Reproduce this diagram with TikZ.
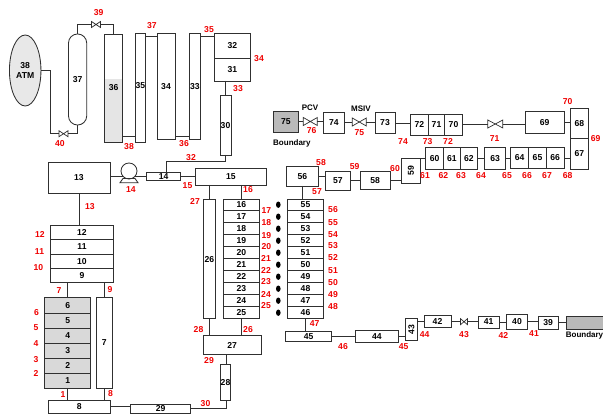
\documentclass[tikz,border=0pt]{standalone}
\usepackage{fontspec}
\usepackage{graphicx}
\setmainfont{Liberation Sans}
\usetikzlibrary{calc,shapes.geometric}
\definecolor{ln}{HTML}{303030}
\definecolor{lbl}{HTML}{F00000}
\tikzset{
  ln/.style={draw=ln,line width=0.85pt},
  bxs/.style={ln,inner sep=0pt,outer sep=0pt,font=\fontsize{8.6}{9}\selectfont\bfseries,text=black},
  rls/.style={inner sep=0pt,font=\fontsize{8.6}{9}\selectfont\bfseries,text=lbl},
  bls/.style={inner sep=0pt,font=\fontsize{8}{9}\selectfont\bfseries,text=black},
  vls/.style={inner sep=0pt,outer sep=0pt},
  con/.style={ln}
}
\newcount\rlc
% \bx[opts]{name}{x1}{y1}{x2}{y2}{label}
\newcommand{\bx}[7][]{%
  \pgfmathsetmacro\bxw{#5-#3}\pgfmathsetmacro\bxh{#6-#4}%
  \pgfmathsetmacro\bxa{(#3+#5)/2}\pgfmathsetmacro\bxb{(#4+#6)/2}%
  \node[bxs,minimum width=\bxw pt,minimum height=\bxh pt,#1] (#2) at (\bxa,\bxb) {#7};}
\newcommand{\rl}[3]{\global\advance\rlc by 1 \node[rls] (rl\the\rlc) at (#1,#2) {#3};}
% \valve{name}{x}{y}{halfw}{halfh}
\newcommand{\valve}[5]{%
  \node[vls,minimum width=#4*2pt,minimum height=#5*2pt] (#1) at (#2,#3) {};
  \draw[ln,fill=white,line width=0.7pt] (#1.north west)--(#1.south east)--(#1.north east)--(#1.south west)--cycle;}
\begin{document}
\begin{tikzpicture}[x=1pt,y=-1pt]
\useasboundingbox[fill=white] (0,0) rectangle (603,414);
% upper train
\node[bxs,ellipse,minimum width=31.5pt,minimum height=71pt,fill=black!9,align=center] (n38) at (25.2,70.5) {38\\[0.5pt]ATM};
\bx[rounded corners=9pt]{n37}{68.5}{34}{86.7}{125}{37}
\fill[black!10] (104.7,79) rectangle (122.7,142);
\bx{n36}{104.7}{34}{122.7}{142}{36}
\bx{n35}{135}{33.5}{145.7}{142}{\raisebox{4pt}{35}}
\bx{n34}{157}{33.5}{175}{139}{34}
\bx{n33}{189.7}{33.5}{200}{139}{33}
\bx{n32}{214}{33.5}{250.7}{58}{32}
\bx{n31}{214}{58}{250.7}{81}{31}
\bx{n30}{220}{95.7}{231}{155}{30}
\bx{n13}{48}{162}{110}{193.7}{13}
\node[ln,circle,minimum size=16pt,inner sep=0pt,outer sep=0pt] (pump) at (129,171) {};
\draw[ln] (123,178.5) -- (135,178.5) -- (138,182.7) -- (120,182.7) -- cycle;
\bx{n14}{146.7}{172}{180.7}{180.7}{14}
\bx{n15}{195}{168.7}{266.7}{185}{15}
% stack 16-25
\bx{n16}{223.3}{199.3}{259.5}{210.7}{16}
\bx{n17}{223.3}{210.7}{259.5}{222.3}{17}
\bx{n18}{223.3}{222.3}{259.5}{234.3}{18}
\bx{n19}{223.3}{234.3}{259.5}{246.3}{19}
\bx{n20}{223.3}{246.3}{259.5}{258.3}{20}
\bx{n21}{223.3}{258.3}{259.5}{270.3}{21}
\bx{n22}{223.3}{270.3}{259.5}{282.3}{22}
\bx{n23}{223.3}{282.3}{259.5}{294.3}{23}
\bx{n24}{223.3}{294.3}{259.5}{306.3}{24}
\bx{n25}{223.3}{306.3}{259.5}{318.7}{25}
\bx{n26}{203}{199.5}{215.7}{318.7}{26}
\bx{n27}{203.3}{335.7}{261}{354.3}{27}
\bx{n28}{220.7}{364.3}{230.3}{400.3}{28}
% stack 55-46
\bx{n55}{287.7}{199.3}{323.3}{210.7}{55}
\bx{n54}{287.7}{210.7}{323.3}{222.3}{54}
\bx{n53}{287.7}{222.3}{323.3}{234.3}{53}
\bx{n52}{287.7}{234.3}{323.3}{246.3}{52}
\bx{n51}{287.7}{246.3}{323.3}{258.3}{51}
\bx{n50}{287.7}{258.3}{323.3}{270.3}{50}
\bx{n49}{287.7}{270.3}{323.3}{282.3}{49}
\bx{n48}{287.7}{282.3}{323.3}{294.3}{48}
\bx{n47}{287.7}{294.3}{323.3}{306.3}{47}
\bx{n46}{287.7}{306.3}{323.3}{318.7}{46}
% left column
\bx{n12}{50.7}{225.7}{113.3}{239.7}{12}
\bx{n11}{50.7}{239.7}{113.3}{254.3}{11}
\bx{n10}{50.7}{254.3}{113.3}{268.3}{10}
\bx{n9}{50.7}{268.3}{113.3}{282.3}{9}
\bx[fill=black!15]{n6}{44.7}{297.7}{90.7}{313}{6}
\bx[fill=black!15]{n5}{44.7}{313}{90.7}{328.3}{5}
\bx[fill=black!15]{n4}{44.7}{328.3}{90.7}{343.3}{4}
\bx[fill=black!15]{n3}{44.7}{343.3}{90.7}{358.3}{3}
\bx[fill=black!15]{n2}{44.7}{358.3}{90.7}{373.3}{2}
\bx[fill=black!15]{n1}{44.7}{373.3}{90.7}{388.3}{1}
\bx{n7}{96.7}{297.7}{112}{388.3}{7}
\bx{n8}{48.3}{400.3}{110}{413.3}{8}
\bx{n29}{130.7}{404.3}{190.7}{413}{29}
% lower train
\bx{n45}{285.7}{331.3}{331.7}{341}{45}
\bx{n44}{355.3}{330.3}{398.3}{342.3}{44}
\bx{n43}{405.3}{318.7}{417.7}{340.3}{\rotatebox{90}{43}}
\bx{n42}{424}{315.7}{451}{327.7}{42}
\valve{v43}{464}{321.7}{3.5}{3}
\bx{n41}{478}{316}{499.3}{328}{41}
\bx{n40}{506.3}{314.3}{527.7}{329}{40}
\bx{n39}{538}{316.7}{558.3}{329}{39}
\bx[fill=black!27]{bd2}{566}{316.7}{603}{329.3}{}
\node[bls] (bd2t) at (584.5,335.5) {Boundary};
% steam train
\bx[fill=black!27]{n75}{273.3}{111.3}{298.3}{132.3}{75}
\valve{vpcv}{310.3}{121.5}{7}{4}
\bx{n74}{323.3}{112.3}{344.3}{133.3}{74}
\valve{vmsiv}{359.3}{122}{7}{4}
\bx{n73}{375}{112.7}{395}{133.3}{73}
\bx{n72}{410.3}{114}{428.3}{135}{72}
\bx{n71}{428.3}{114}{444.7}{135}{71}
\bx{n70}{444.7}{114}{462.3}{135}{70}
\valve{v71}{495.3}{124}{7.5}{4}
\bx{n69}{525.3}{111.7}{564}{133.3}{69}
\bx{n68}{570.7}{108.7}{588}{138.7}{68}
\bx{n67}{570.7}{138.7}{588}{169}{67}
\bx{n60}{425.7}{147.7}{443.7}{169}{60}
\bx{n61}{443.7}{147.7}{460}{169}{61}
\bx{n62}{460}{147.7}{477.7}{169}{62}
\bx{n63}{484.7}{147.7}{505.7}{169.3}{63}
\bx{n64}{510.7}{147.3}{528.7}{168.7}{64}
\bx{n65}{528.7}{147.3}{546.3}{168.7}{65}
\bx{n66}{546.3}{147.3}{564}{168.7}{66}
\bx{n59}{401.3}{158}{420.3}{183.3}{\rotatebox{90}{59}}
\bx{n58}{360.3}{171.3}{390}{189.3}{58}
\bx{n57}{325.3}{171.3}{350.3}{190.7}{57}
\bx{n56}{286.3}{166.7}{318.3}{186}{56}
\valve{v39}{96}{24.5}{4.5}{3}
\valve{v40}{63.5}{133.7}{4.5}{3}
% texts
\node[bls] (tpcv) at (310,107.5) {PCV};
\node[bls] (tmsiv) at (361,108.7) {MSIV};
\node[bls,anchor=west] (bd1t) at (273,143.7) {Boundary};
% bend coordinates
\coordinate (b40) at (50.7,133.7);
\coordinate (b30) at (225.5,161.3);
\coordinate (b14) at (166.3,161.3);
% connectors
\draw[con] (n38.east) -| (b40) -- (v40.west);
\draw[con] (v40.east) -| (n37.south);
\draw[con] (n37.north) |- (v39.west);
\draw[con] (v39.east) -| (n36.north);
\draw[con] (n36.south east |- 0,136.3) -- (n35.south west |- 0,136.3);
\draw[con] (n35.north east |- 0,36.3) -- (n34.north west |- 0,36.3);
\draw[con] (n34.south east |- 0,136.3) -- (n33.south west |- 0,136.3);
\draw[con] (n33.north east |- 0,36.3) -- (n32.north west |- 0,36.3);
\draw[con] (n31.south -| n30.north) -- (n30.north);
\draw[con] (n30.south) -- (b30) -- (b14) -- (b14 |- n14.north);
\draw[con] (n13.east |- n14.west) -- (pump.225 |- n14.west);
\draw[con] (pump.-45 |- n14.west) -- (n14.west);
\draw[con] (n14.east) -- (n14.east -| n15.west);
\draw[con] (n15.south -| n26.north) -- (n26.north);
\draw[con] (n15.south -| n16.north) -- (n16.north);
\draw[con] (n13.south) -- (n12.north -| n13.south);
\draw[con] (n9.south -| n6.north) -- (n6.north);
\draw[con] (n9.south -| n7.north) -- (n7.north);
\draw[con] (n1.south) -- (n1.south |- n8.north);
\draw[con] (n7.south) -- (n7.south |- n8.north);
\draw[con] (n8.east) -- (n8.east -| n29.west);
\coordinate (p28s) at ([xshift=1.2pt]n28.south);
\coordinate (p28n) at ([xshift=1.2pt]n28.north);
\draw[con] (n29.east) -| (p28s);
\draw[con] (n27.south -| p28n) -- (p28n);
\draw[con] (n26.south) -- (n26.south |- n27.north);
\draw[con] (n25.south) -- (n25.south |- n27.north);
\draw[con] (n46.south) -- (n46.south |- n45.north);
\draw[con] (n45.east) -- (n45.east -| n44.west);
\draw[con] (n44.east) -- (n44.east -| n43.west);
\draw[con] (n43.east |- n42.west) -- (n42.west);
\draw[con] (n42.east) -- (v43.west);
\draw[con] (v43.east) -- (v43.east -| n41.west);
\draw[con] (n41.east) -- (n41.east -| n40.west);
\draw[con] (n40.east) -- (n40.east -| n39.west);
\draw[con] (n39.east) -- (n39.east -| bd2.west);
\draw[con] (n75.east) -- (n75.east -| vpcv.west);
\draw[con] (vpcv.east) -- (vpcv.east -| n74.west);
\draw[con] (n74.east) -- (n74.east -| vmsiv.west);
\draw[con] (vmsiv.east) -- (vmsiv.east -| n73.west);
\draw[con] (n73.east) -- (n73.east -| n72.west);
\draw[con] (n70.east) -- (n70.east -| v71.west);
\draw[con] (v71.east) -- (v71.east -| n69.west);
\draw[con] (n69.east) -- (n69.east -| n68.west);
\draw[con] (n66.east) -- (n66.east -| n67.west);
\draw[con] (n64.west) -- (n64.west -| n63.east);
\draw[con] (n63.west) -- (n63.west -| n62.east);
\draw[con] (n60.west) -- (n60.west -| n59.east);
\draw[con] (n58.east |- 0,180) -- (n59.west |- 0,180);
\draw[con] (n57.east |- 0,180.7) -- (n58.west |- 0,180.7);
\draw[con] (n56.east |- 0,176) -- (n57.west |- 0,176);
\draw[con] (n56.south) -- (n56.south |- n55.north);
% dots
\foreach \i/\yy in {1/204.7,2/216.7,3/228.7,4/240.7,5/252.7,6/264.7,7/276.7,8/288.7,9/300.7,10/312.7}
  \node[ellipse,fill=black,inner sep=0pt,minimum width=4.6pt,minimum height=6.4pt] (dot\i) at (278.3,\yy) {};
% red labels
\rl{98.7}{13}{39}\rl{152}{26}{37}\rl{209}{29.5}{35}\rl{259}{59}{34}\rl{238}{89}{33}
\rl{191}{158}{32}\rl{60}{144}{40}\rl{129}{147}{38}\rl{184}{144}{36}\rl{131}{190}{14}
\rl{187.5}{186}{15}\rl{248}{190}{16}\rl{195}{201}{27}\rl{90}{207}{13}
\rl{40}{234}{12}\rl{39.5}{252}{11}\rl{38.5}{268}{10}\rl{59}{291}{7}\rl{110}{290}{9}
\rl{36.5}{313}{6}\rl{36}{328}{5}\rl{36}{344}{4}\rl{36}{360}{3}\rl{36}{373.5}{2}
\rl{63}{395}{1}\rl{110.5}{394}{8}\rl{205.5}{404}{30}\rl{209}{361}{29}\rl{198.5}{330}{28}\rl{248}{330}{26}
\rl{266.3}{211}{17}\rl{266.3}{223}{18}\rl{266.3}{235.5}{19}\rl{266.3}{247}{20}\rl{266}{258}{21}
\rl{266}{270}{22}\rl{266}{282}{23}\rl{266}{294}{24}\rl{266}{306}{25}
\rl{333}{210}{56}\rl{333}{222.5}{55}\rl{333}{234.5}{54}\rl{333}{246}{53}\rl{333}{258}{52}
\rl{333}{270.5}{51}\rl{333}{282.5}{50}\rl{333}{294.5}{49}\rl{333}{306.5}{48}
\rl{314.7}{324}{47}\rl{343}{347}{46}
\rl{321}{163}{58}\rl{317}{191.5}{57}\rl{354.7}{167}{59}\rl{395}{168.7}{60}
\rl{425}{175.5}{61}\rl{443.3}{175.5}{62}\rl{461}{175.5}{63}\rl{481}{175.5}{64}\rl{507}{175.5}{65}
\rl{527}{175.5}{66}\rl{547}{175.5}{67}\rl{567.7}{175.5}{68}\rl{595.7}{138.7}{69}\rl{567.7}{101.7}{70}
\rl{494.7}{139}{71}\rl{448}{141.7}{72}\rl{427.7}{141.7}{73}\rl{403}{141.7}{74}\rl{359.3}{133}{75}\rl{311.7}{131}{76}
\rl{424.7}{335}{44}\rl{403.7}{347}{45}\rl{464}{335}{43}\rl{503.3}{335}{42}\rl{534}{334}{41}
\end{tikzpicture}
\end{document}
